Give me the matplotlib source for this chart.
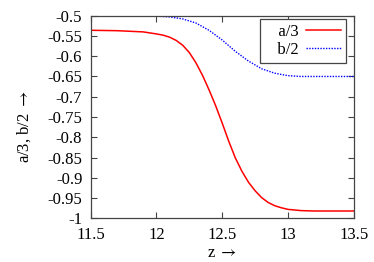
import matplotlib
matplotlib.use('Agg')
import matplotlib.pyplot as plt

plt.rcParams['font.family'] = ['Liberation Serif', 'DejaVu Serif']
plt.rcParams['mathtext.fontset'] = 'stix'
plt.rcParams['axes.unicode_minus'] = False

# a/3 curve
z_a = [11.5, 11.7, 11.9, 12.0, 12.05, 12.1, 12.15, 12.2, 12.25, 12.3, 12.35,
       12.4, 12.45, 12.5, 12.55, 12.6, 12.65, 12.7, 12.75, 12.8, 12.85, 12.9,
       12.95, 13.0, 13.1, 13.2, 13.35, 13.5]
a3 = [-0.536, -0.537, -0.540, -0.545, -0.548, -0.553, -0.561, -0.573, -0.591,
      -0.616, -0.647, -0.683, -0.722, -0.765, -0.810, -0.851, -0.884, -0.911,
      -0.932, -0.949, -0.961, -0.969, -0.974, -0.978, -0.981, -0.982, -0.982,
      -0.982]

# b/2 curve
z_b = [11.5, 11.8, 12.0, 12.1, 12.2, 12.3, 12.4, 12.5, 12.6, 12.7, 12.8,
       12.9, 13.0, 13.1, 13.3, 13.5]
b2 = [-0.500, -0.500, -0.501, -0.503, -0.508, -0.518, -0.536, -0.560, -0.588,
      -0.612, -0.631, -0.642, -0.648, -0.650, -0.650, -0.650]

xticks = [11.5, 12, 12.5, 13, 13.5]
xlabels = ['11.5', '12', '12.5', '13', '13.5']
yticks = [-0.5, -0.55, -0.6, -0.65, -0.7, -0.75, -0.8, -0.85, -0.9, -0.95, -1]
ylabels = ['-0.5', '-0.55', '-0.6', '-0.65', '-0.7', '-0.75', '-0.8', '-0.85',
           '-0.9', '-0.95', '-1']

fs = 12

fig = plt.figure(figsize=(3.74, 2.62), dpi=100)
ax = fig.add_axes([0.2425, 0.1668, 0.7032, 0.7733])

# leading spaces push the key text right, like the gnuplot key
ax.plot(z_a, a3, color='#ff0000', lw=1.1, label='   a/3')
ax.plot(z_b, b2, color='#0000ff', lw=1.0, ls=(0, (1, 1)), label='   b/2')

ax.set_xlim(11.5, 13.5)
ax.set_ylim(-1, -0.5)
ax.set_xticks(xticks)
ax.set_xticklabels(xlabels)
ax.set_yticks(yticks)
ax.set_yticklabels(ylabels)
ax.tick_params(direction='in', length=4, width=0.8, color='#444444',
               top=True, right=True, labelsize=fs, pad=6)
for s in ax.spines.values():
    s.set_color('#444444')
    s.set_linewidth(0.9)

ax.set_xlabel('z $\\rightarrow$', fontsize=fs)
ax.xaxis.set_label_coords(0.5, -0.13)
ax.set_ylabel('a/3, b/2 $\\rightarrow$', fontsize=fs)
ax.yaxis.set_label_coords(-0.22, 0.45)

leg = ax.legend(loc='upper right', markerfirst=False, fontsize=fs,
                fancybox=False, framealpha=1, edgecolor='#444444',
                handlelength=2.1, handletextpad=0.45, borderpad=0.3,
                labelspacing=0.1, borderaxespad=0,
                bbox_to_anchor=(0.971, 0.984))
leg.get_frame().set_linewidth(0.9)

fig.savefig('out.png', dpi=100)
